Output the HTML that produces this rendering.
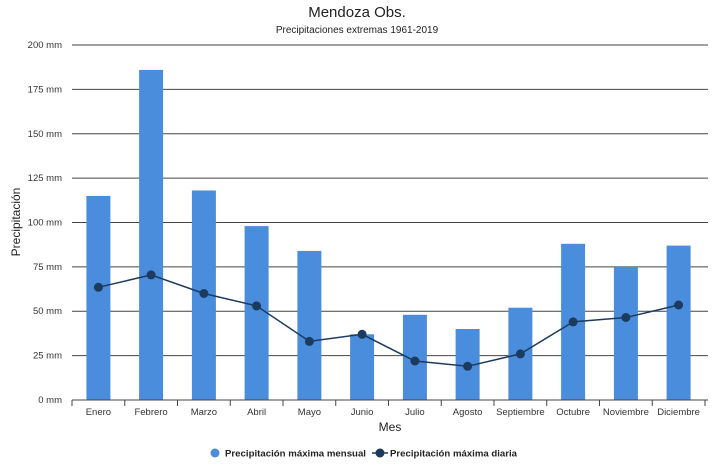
<!DOCTYPE html>
<html><head><meta charset="utf-8"><style>
body{margin:0;background:#fff;}
svg{display:block;font-family:"Liberation Sans",sans-serif;}
</style></head><body>
<svg width="715" height="472" viewBox="0 0 715 472">
<text x="357" y="17" text-anchor="middle" font-size="15" fill="#222">Mendoza Obs.</text>
<text x="357" y="33" text-anchor="middle" font-size="10" fill="#222">Precipitaciones extremas 1961-2019</text>
<g stroke="#444" stroke-width="1">
<line x1="72" y1="45" x2="708" y2="45"/>
<line x1="72" y1="89.4" x2="708" y2="89.4"/>
<line x1="72" y1="133.75" x2="708" y2="133.75"/>
<line x1="72" y1="178.1" x2="708" y2="178.1"/>
<line x1="72" y1="222.5" x2="708" y2="222.5"/>
<line x1="72" y1="266.9" x2="708" y2="266.9"/>
<line x1="72" y1="311.25" x2="708" y2="311.25"/>
<line x1="72" y1="355.6" x2="708" y2="355.6"/>
</g>
<g font-size="9.5" fill="#333" text-anchor="end">
<text x="62" y="48">200 mm</text>
<text x="62" y="92.5">175 mm</text>
<text x="62" y="137">150 mm</text>
<text x="62" y="181">125 mm</text>
<text x="62" y="225.5">100 mm</text>
<text x="62" y="270">75 mm</text>
<text x="62" y="314">50 mm</text>
<text x="62" y="358.5">25 mm</text>
<text x="62" y="403">0 mm</text>
</g>
<text transform="translate(20,222) rotate(-90)" text-anchor="middle" font-size="12" fill="#222">Precipitación</text>
<g fill="#4a8ddc">
<rect x="86.4" y="195.9" width="24" height="204.1"/>
<rect x="139.1" y="69.9" width="24" height="330.1"/>
<rect x="191.9" y="190.5" width="24" height="209.5"/>
<rect x="244.6" y="226.1" width="24" height="173.9"/>
<rect x="297.4" y="250.9" width="24" height="149.1"/>
<rect x="350.1" y="334.3" width="24" height="65.7"/>
<rect x="402.9" y="314.8" width="24" height="85.2"/>
<rect x="455.6" y="329" width="24" height="71"/>
<rect x="508.4" y="307.7" width="24" height="92.3"/>
<rect x="561.1" y="243.8" width="24" height="156.2"/>
<rect x="613.9" y="266.9" width="24" height="133.1"/>
<rect x="666.6" y="245.6" width="24" height="154.4"/>
</g>
<line x1="72" y1="400" x2="708" y2="400" stroke="#444"/>
<g stroke="#444">
<line x1="72" y1="400" x2="72" y2="406"/><line x1="124.75" y1="400" x2="124.75" y2="406"/>
<line x1="177.5" y1="400" x2="177.5" y2="406"/><line x1="230.25" y1="400" x2="230.25" y2="406"/>
<line x1="283" y1="400" x2="283" y2="406"/><line x1="335.75" y1="400" x2="335.75" y2="406"/>
<line x1="388.5" y1="400" x2="388.5" y2="406"/><line x1="441.25" y1="400" x2="441.25" y2="406"/>
<line x1="494" y1="400" x2="494" y2="406"/><line x1="546.75" y1="400" x2="546.75" y2="406"/>
<line x1="599.5" y1="400" x2="599.5" y2="406"/><line x1="652.25" y1="400" x2="652.25" y2="406"/>
<line x1="705" y1="400" x2="705" y2="406"/>
</g>
<g font-size="9.5" fill="#333" text-anchor="middle">
<text x="98.4" y="415">Enero</text><text x="151.1" y="415">Febrero</text>
<text x="203.9" y="415">Marzo</text><text x="256.6" y="415">Abril</text>
<text x="309.4" y="415">Mayo</text><text x="362.1" y="415">Junio</text>
<text x="414.9" y="415">Julio</text><text x="467.6" y="415">Agosto</text>
<text x="520.4" y="415">Septiembre</text><text x="573.1" y="415">Octubre</text>
<text x="625.9" y="415">Noviembre</text><text x="678.6" y="415">Diciembre</text>
</g>
<text x="390" y="431" text-anchor="middle" font-size="12" fill="#222">Mes</text>
<polyline fill="none" stroke="#1d3a5f" stroke-width="1.5" points="98.4,287.3 151.1,274.9 203.9,293.5 256.6,305.9 309.4,341.4 362.1,334.3 414.9,361 467.6,366.3 520.4,353.9 573.1,321.9 625.9,317.5 678.6,305"/>
<g fill="#1d3a5f">
<circle cx="98.4" cy="287.3" r="4.5"/><circle cx="151.1" cy="274.9" r="4.5"/>
<circle cx="203.9" cy="293.5" r="4.5"/><circle cx="256.6" cy="305.9" r="4.5"/>
<circle cx="309.4" cy="341.4" r="4.5"/><circle cx="362.1" cy="334.3" r="4.5"/>
<circle cx="414.9" cy="361" r="4.5"/><circle cx="467.6" cy="366.3" r="4.5"/>
<circle cx="520.4" cy="353.9" r="4.5"/><circle cx="573.1" cy="321.9" r="4.5"/>
<circle cx="625.9" cy="317.5" r="4.5"/><circle cx="678.6" cy="305" r="4.5"/>
</g>
<circle cx="215" cy="453" r="4.5" fill="#4a8ddc"/>
<text x="225" y="456.5" font-size="9.5" font-weight="bold" fill="#222" textLength="141" lengthAdjust="spacingAndGlyphs">Precipitación máxima mensual</text>
<line x1="372" y1="453" x2="388" y2="453" stroke="#1d3a5f" stroke-width="1.5"/>
<circle cx="380" cy="453" r="4.5" fill="#1d3a5f"/>
<text x="390" y="456.5" font-size="9.5" font-weight="bold" fill="#222" textLength="127" lengthAdjust="spacingAndGlyphs">Precipitación máxima diaria</text>
</svg>
</body></html>
